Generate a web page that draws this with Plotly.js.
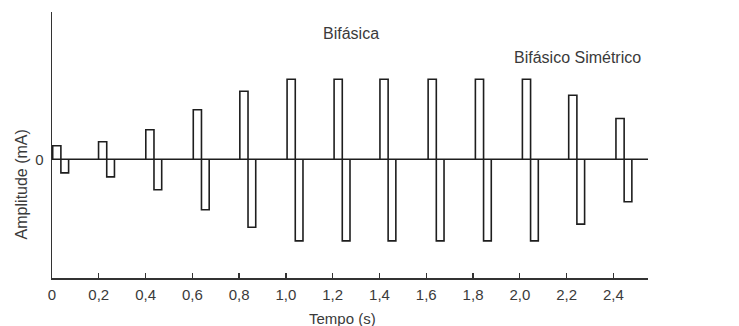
<!DOCTYPE html>
<html>
<head>
<meta charset="utf-8">
<script src="https://cdn.plot.ly/plotly-3.0.1.min.js"></script>
<style>html,body{margin:0;padding:0;background:#fff}</style>
</head>
<body>
<div id="chart" style="width:739px;height:326px"></div>
<script>
// Pulse start times (s)
const pulseStart = [0.003, 0.199, 0.401, 0.604, 0.803, 1.005, 1.206, 1.402, 1.608, 1.810, 2.011, 2.209, 2.411];
// Positive phase amplitude (relative units) and negative phase amplitude
const posAmp = [0.17, 0.22, 0.37, 0.62, 0.85, 1.0, 1.0, 1.0, 1.0, 1.0, 1.0, 0.80, 0.51];
const negAmp = [-0.17, -0.22, -0.38, -0.63, -0.85, -1.02, -1.02, -1.02, -1.02, -1.02, -1.02, -0.81, -0.53];
// Phase durations (s)
const posWidth = 0.035;
const negWidth = 0.033;
// Axis tick values / labels
const tickVals = [0, 0.2, 0.4, 0.6, 0.8, 1.0, 1.2, 1.4, 1.6, 1.8, 2.0, 2.2, 2.4];
const tickText = ['0', '0,2', '0,4', '0,6', '0,8', '1,0', '1,2', '1,4', '1,6', '1,8', '2,0', '2,2', '2,4'];
const baseline = [0, 2.548];

const px = [], py = [];
pulseStart.forEach((t, i) => {
  px.push(t, t, t + posWidth, t + posWidth, t + posWidth + negWidth, t + posWidth + negWidth, null);
  py.push(0, posAmp[i], posAmp[i], negAmp[i], negAmp[i], 0, null);
});

const lineColor = '#1e1e1e';
const traces = [
  {x: baseline, y: [0, 0], mode: 'lines', line: {color: lineColor, width: 1.6}, hoverinfo: 'skip', showlegend: false},
  {x: px, y: py, mode: 'lines', line: {color: lineColor, width: 1.6}, connectgaps: false, hoverinfo: 'skip', showlegend: false}
];

const fam = 'Liberation Sans, Arial, sans-serif';
const txt = '#3a3a3a';
const layout = {
  width: 739, height: 326,
  margin: {l: 51.7, r: 90.7, t: 11.7, b: 48.3},
  paper_bgcolor: '#fff', plot_bgcolor: '#fff',
  font: {family: fam, color: txt, size: 15},
  showlegend: false,
  xaxis: {
    range: [0, 2.548], showgrid: false, zeroline: false,
    showline: true, linecolor: '#333', linewidth: 1.5,
    ticks: 'inside', ticklen: 5, tickwidth: 1.3, tickcolor: '#333',
    tickvals: tickVals, ticktext: tickText, ticklabelstandoff: 2,
    tickfont: {size: 15, color: txt, family: fam}
  },
  yaxis: {
    range: [-1.484, 1.841], showgrid: false, zeroline: false,
    showline: true, linecolor: '#333', linewidth: 1.5,
    ticks: '', tickvals: [0], ticktext: ['0'], ticklabelstandoff: 4,
    tickfont: {size: 15, color: txt, family: fam}
  },
  annotations: [
    {text: 'Tempo (s)', xref: 'paper', yref: 'paper', x: 0.488, y: -0.152, xanchor: 'center', yanchor: 'middle', showarrow: false, font: {size: 15, color: txt}},
    {text: 'Amplitude (mA)', xref: 'paper', yref: 'paper', x: -0.052, y: 0.352, xanchor: 'center', yanchor: 'middle', textangle: -90, showarrow: false, font: {size: 16, color: txt}},
    {text: 'Bifásica', xref: 'x', yref: 'paper', x: 1.28, y: 0.92, xanchor: 'center', yanchor: 'middle', showarrow: false, font: {size: 16, color: txt}},
    {text: 'Bifásico Simétrico', xref: 'x', yref: 'paper', x: 2.245, y: 0.83, xanchor: 'center', yanchor: 'middle', showarrow: false, font: {size: 16, color: txt}}
  ]
};

Plotly.newPlot('chart', traces, layout, {displayModeBar: false, staticPlot: true});
</script>
</body>
</html>
